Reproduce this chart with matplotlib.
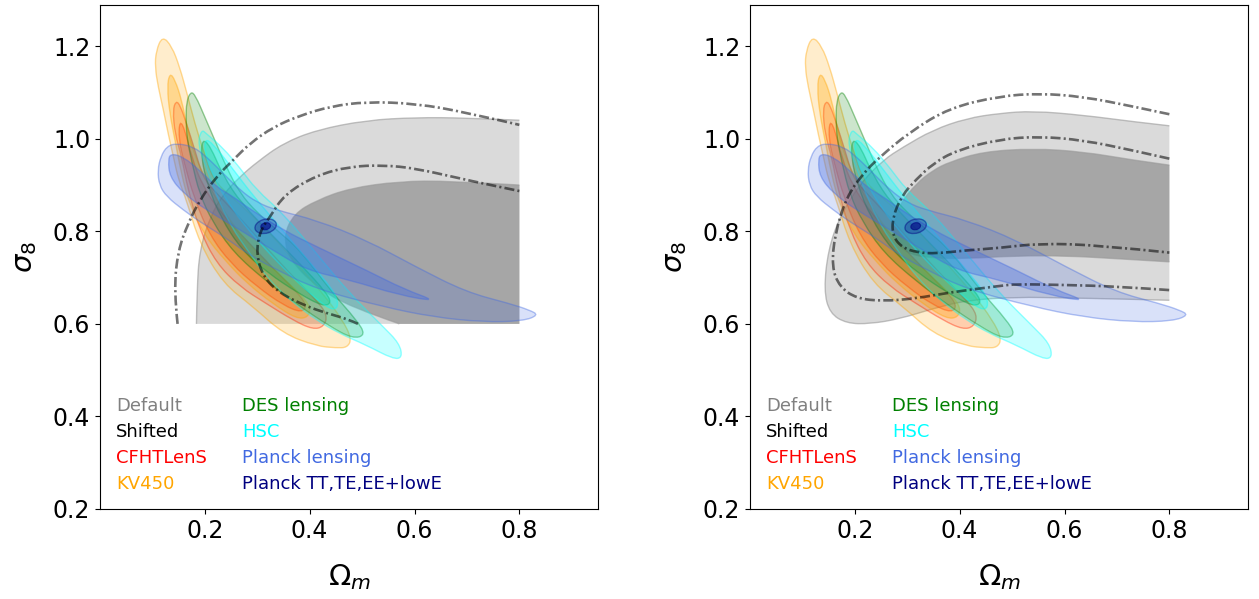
import numpy as np
import matplotlib.pyplot as plt
from matplotlib.path import Path
from matplotlib.patches import PathPatch, Ellipse
from matplotlib.colors import to_rgba

# contornos, pares (Omega_m, sigma_8)
# Default (cinza) e Shifted (traco-ponto), painel da esquerda
default_esq_2s = [(0.184, 0.600), (0.185, 0.673), (0.190, 0.759), (0.210, 0.831), (0.235, 0.880),
                  (0.267, 0.918), (0.300, 0.950), (0.349, 0.990), (0.413, 1.019), (0.508, 1.040),
                  (0.603, 1.046), (0.698, 1.045), (0.800, 1.040)]
default_esq_1s = [(0.571, 0.600), (0.476, 0.637), (0.413, 0.680), (0.362, 0.738), (0.350, 0.790),
                  (0.370, 0.838), (0.413, 0.867), (0.476, 0.893), (0.571, 0.908), (0.667, 0.909),
                  (0.800, 0.900)]
shifted_esq_2s = [(0.148, 0.600), (0.141, 0.673), (0.149, 0.759), (0.168, 0.817), (0.190, 0.867),
                  (0.222, 0.918), (0.254, 0.954), (0.286, 0.990), (0.330, 1.025), (0.381, 1.050),
                  (0.440, 1.070), (0.508, 1.080), (0.603, 1.076), (0.698, 1.057), (0.800, 1.030)]
shifted_esq_1s = [(0.492, 0.600), (0.476, 0.609), (0.430, 0.624), (0.394, 0.638), (0.343, 0.666),
                  (0.311, 0.702), (0.298, 0.752), (0.305, 0.800), (0.324, 0.831), (0.352, 0.880),
                  (0.413, 0.921), (0.476, 0.940), (0.540, 0.943), (0.603, 0.936), (0.698, 0.911),
                  (0.800, 0.887)]

# painel da direita
default_dir_2s = [(0.800, 0.651), (0.698, 0.654), (0.603, 0.656), (0.508, 0.658), (0.413, 0.651),
                  (0.349, 0.633), (0.286, 0.611), (0.229, 0.600), (0.184, 0.601), (0.152, 0.623),
                  (0.141, 0.673), (0.149, 0.759), (0.171, 0.831), (0.210, 0.903), (0.254, 0.954),
                  (0.292, 0.982), (0.349, 1.019), (0.413, 1.044), (0.476, 1.055), (0.540, 1.060),
                  (0.635, 1.051), (0.730, 1.037), (0.800, 1.028)]
default_dir_1s = [(0.800, 0.734), (0.698, 0.741), (0.603, 0.747), (0.508, 0.747), (0.413, 0.741),
                  (0.350, 0.742), (0.305, 0.750), (0.280, 0.772), (0.273, 0.810), (0.286, 0.860),
                  (0.317, 0.903), (0.349, 0.932), (0.381, 0.950), (0.444, 0.972), (0.540, 0.979),
                  (0.635, 0.972), (0.730, 0.954), (0.800, 0.943)]
shifted_dir_2s = [(0.800, 1.053), (0.730, 1.070), (0.635, 1.091), (0.552, 1.098), (0.476, 1.092),
                  (0.381, 1.067), (0.305, 1.015), (0.245, 0.958), (0.216, 0.925), (0.184, 0.874),
                  (0.162, 0.795), (0.156, 0.723), (0.171, 0.680), (0.203, 0.655), (0.254, 0.649),
                  (0.317, 0.655), (0.381, 0.668), (0.476, 0.682), (0.508, 0.686), (0.603, 0.684),
                  (0.698, 0.681), (0.800, 0.673)]
shifted_dir_1s = [(0.800, 0.957), (0.730, 0.975), (0.635, 0.997), (0.552, 1.005), (0.476, 0.999),
                  (0.394, 0.975), (0.350, 0.947), (0.317, 0.912), (0.290, 0.878), (0.272, 0.830),
                  (0.272, 0.790), (0.290, 0.765), (0.320, 0.754), (0.356, 0.752), (0.413, 0.759),
                  (0.476, 0.764), (0.552, 0.774), (0.667, 0.770), (0.800, 0.754)]

# lentes fracas (iguais nos dois paineis)
cfht_2s = [(0.145, 1.082), (0.153, 1.072), (0.165, 1.033), (0.181, 0.975), (0.197, 0.915),
           (0.220, 0.885), (0.250, 0.850), (0.290, 0.800), (0.337, 0.740), (0.381, 0.687),
           (0.413, 0.651), (0.434, 0.619), (0.427, 0.594), (0.406, 0.588), (0.368, 0.608),
           (0.317, 0.644), (0.267, 0.680), (0.222, 0.731), (0.190, 0.803), (0.168, 0.889),
           (0.156, 0.960), (0.143, 1.011), (0.139, 1.062)]
cfht_1s = [(0.152, 1.040), (0.162, 1.020), (0.175, 0.960), (0.195, 0.900), (0.230, 0.840),
           (0.280, 0.780), (0.330, 0.720), (0.375, 0.670), (0.395, 0.640), (0.385, 0.624),
           (0.350, 0.640), (0.300, 0.680), (0.250, 0.730), (0.210, 0.790), (0.180, 0.870),
           (0.160, 0.950), (0.150, 1.000)]
kv450_2s = [(0.119, 1.222), (0.137, 1.200), (0.152, 1.155), (0.166, 1.098), (0.181, 1.033),
            (0.197, 0.975), (0.216, 0.911), (0.250, 0.875), (0.286, 0.839), (0.336, 0.781),
            (0.381, 0.723), (0.425, 0.666), (0.463, 0.608), (0.480, 0.568), (0.472, 0.549),
            (0.451, 0.548), (0.413, 0.552), (0.349, 0.579), (0.292, 0.637), (0.235, 0.687),
            (0.190, 0.774), (0.165, 0.867), (0.150, 0.910), (0.140, 0.961), (0.130, 1.011),
            (0.121, 1.062), (0.111, 1.112), (0.105, 1.155), (0.107, 1.190)]
kv450_1s = [(0.133, 1.142), (0.143, 1.128), (0.156, 1.083), (0.166, 1.026), (0.180, 0.965),
            (0.205, 0.905), (0.235, 0.845), (0.270, 0.790), (0.310, 0.740), (0.350, 0.697),
            (0.382, 0.665), (0.402, 0.636), (0.397, 0.614), (0.375, 0.611), (0.330, 0.643),
            (0.280, 0.688), (0.240, 0.735), (0.200, 0.790), (0.170, 0.860), (0.155, 0.925),
            (0.143, 0.997), (0.133, 1.055), (0.128, 1.112)]
des_2s = [(0.173, 1.102), (0.182, 1.094), (0.200, 1.047), (0.219, 0.997), (0.241, 0.939),
          (0.267, 0.882), (0.300, 0.840), (0.340, 0.800), (0.381, 0.760), (0.444, 0.666),
          (0.489, 0.609), (0.507, 0.576), (0.482, 0.568), (0.438, 0.595), (0.381, 0.638),
          (0.317, 0.692), (0.254, 0.755), (0.215, 0.820), (0.190, 0.880), (0.175, 0.950),
          (0.166, 1.000), (0.164, 1.040), (0.165, 1.080)]
des_1s = [(0.195, 1.000), (0.210, 0.985), (0.235, 0.920), (0.270, 0.860), (0.330, 0.790),
          (0.390, 0.720), (0.430, 0.670), (0.442, 0.645), (0.425, 0.638), (0.380, 0.665),
          (0.320, 0.710), (0.270, 0.760), (0.230, 0.830), (0.205, 0.900), (0.193, 0.960)]
hsc_2s = [(0.194, 1.020), (0.203, 1.011), (0.235, 0.980), (0.267, 0.937), (0.298, 0.890),
          (0.349, 0.839), (0.413, 0.752), (0.476, 0.666), (0.540, 0.594), (0.571, 0.558),
          (0.577, 0.527), (0.559, 0.524), (0.508, 0.554), (0.457, 0.579), (0.413, 0.608),
          (0.362, 0.651), (0.317, 0.702), (0.286, 0.752), (0.250, 0.810), (0.225, 0.870),
          (0.205, 0.930), (0.186, 0.990)]
hsc_1s = [(0.200, 1.000), (0.215, 0.990), (0.250, 0.940), (0.290, 0.880), (0.350, 0.800),
          (0.410, 0.720), (0.450, 0.665), (0.455, 0.635), (0.440, 0.630), (0.400, 0.665),
          (0.350, 0.720), (0.300, 0.780), (0.250, 0.850), (0.215, 0.920), (0.200, 0.970)]
planck_lens_2s = [(0.146, 0.990), (0.178, 0.983), (0.203, 0.961), (0.229, 0.932), (0.267, 0.889),
                  (0.300, 0.862), (0.336, 0.846), (0.413, 0.824), (0.508, 0.781), (0.603, 0.723),
                  (0.698, 0.669), (0.781, 0.644), (0.819, 0.630), (0.837, 0.619), (0.806, 0.606),
                  (0.730, 0.604), (0.635, 0.615), (0.540, 0.637), (0.413, 0.675), (0.337, 0.717),
                  (0.286, 0.748), (0.241, 0.785), (0.190, 0.821), (0.159, 0.846), (0.127, 0.875),
                  (0.113, 0.900), (0.110, 0.932), (0.116, 0.962), (0.128, 0.984)]
planck_lens_1s = [(0.135, 0.968), (0.159, 0.961), (0.190, 0.932), (0.222, 0.896), (0.254, 0.875),
                  (0.286, 0.848), (0.349, 0.803), (0.413, 0.767), (0.508, 0.716), (0.580, 0.675),
                  (0.645, 0.648), (0.571, 0.662), (0.476, 0.695), (0.394, 0.716), (0.330, 0.759),
                  (0.267, 0.803), (0.203, 0.846), (0.159, 0.882), (0.133, 0.918), (0.130, 0.954)]

# Planck TT,TE,EE+lowE: centro, largura, altura, angulo
planck_tt_centro = (0.316, 0.811)
planck_tt_2s = (0.042, 0.030, 20)
planck_tt_1s = (0.019, 0.015, 20)

legenda_1 = ["Default", "Shifted", "CFHTLenS", "KV450"]
cores_1 = ["gray", "black", "red", "orange"]
legenda_2 = ["DES lensing", "HSC", "Planck lensing", "Planck TT,TE,EE+lowE"]
cores_2 = ["green", "cyan", "royalblue", "navy"]


def caminho(pts, fechado=True):
    p = np.asarray(pts, float)
    if fechado:
        m = (p + np.roll(p, -1, axis=0)) / 2
        verts = [m[-1]]
        codes = [Path.MOVETO]
        for a, b in zip(p, m):
            verts += [a, b]
            codes += [Path.CURVE3, Path.CURVE3]
        verts.append(m[-1])
        codes.append(Path.CLOSEPOLY)
    else:
        verts = [p[0]]
        codes = [Path.MOVETO]
        for i in range(1, len(p) - 1):
            fim = p[-1] if i == len(p) - 2 else (p[i] + p[i + 1]) / 2
            verts += [p[i], fim]
            codes += [Path.CURVE3, Path.CURVE3]
    return verts, codes


def regiao(ax, pts, cor, a_fill, a_borda=0.4, z=2):
    v, c = caminho(pts)
    ax.add_patch(PathPatch(Path(v, c), facecolor=to_rgba(cor, a_fill),
                           edgecolor=to_rgba(cor, a_borda), lw=1.0, zorder=z))


def cinza(ax, pts, cantos, cor):
    v, c = caminho(pts, fechado=False)
    v2 = v + [tuple(q) for q in cantos] + [v[0]]
    c2 = c + [Path.LINETO] * len(cantos) + [Path.CLOSEPOLY]
    ax.add_patch(PathPatch(Path(v2, c2), facecolor=cor, lw=0, zorder=1))
    ax.add_patch(PathPatch(Path(v, c), fill=False, edgecolor=(0.6, 0.6, 0.6, 0.6), lw=1.0, zorder=1))


def linha(ax, pts):
    v, c = caminho(pts, fechado=False)
    ax.add_patch(PathPatch(Path(v, c), fill=False, edgecolor=to_rgba("k", 0.55), lw=1.9,
                           linestyle=(0, (3.8, 1.2, 0.8, 1.2)), zorder=6))


def painel(ax, d2, d1, s2, s1, cantos2, cantos1):
    cinza(ax, d2, cantos2, "#dadada")
    cinza(ax, d1, cantos1, "#a6a6a6")

    regiao(ax, cfht_2s, "red", 0.15)
    regiao(ax, cfht_1s, "red", 0.25)
    regiao(ax, kv450_2s, "orange", 0.2)
    regiao(ax, kv450_1s, "orange", 0.3)
    regiao(ax, des_2s, "green", 0.2)
    regiao(ax, des_1s, "green", 0.25)
    regiao(ax, hsc_2s, "cyan", 0.22)
    regiao(ax, hsc_1s, "cyan", 0.3)
    regiao(ax, planck_lens_2s, "royalblue", 0.2)
    regiao(ax, planck_lens_1s, "royalblue", 0.35)

    w, h, ang = planck_tt_2s
    ax.add_patch(Ellipse(planck_tt_centro, w, h, angle=ang, facecolor=to_rgba("navy", 0.25),
                         edgecolor=to_rgba("navy", 0.45), lw=1.0, zorder=4))
    w, h, ang = planck_tt_1s
    ax.add_patch(Ellipse(planck_tt_centro, w, h, angle=ang, facecolor=to_rgba("navy", 0.6),
                         edgecolor=to_rgba("navy", 0.6), lw=0.8, zorder=4))

    linha(ax, s2)
    linha(ax, s1)

    for i, (t, c) in enumerate(zip(legenda_1, cores_1)):
        ax.text(0.032, 0.205 - i * 0.0515, t, color=c, fontsize=13, va="center",
                transform=ax.transAxes)
    for i, (t, c) in enumerate(zip(legenda_2, cores_2)):
        ax.text(0.285, 0.205 - i * 0.0515, t, color=c, fontsize=13, va="center",
                transform=ax.transAxes)

    ax.set_xlim(0, 0.95)
    ax.set_ylim(0.2, 1.289)
    ax.set_xticks([0.2, 0.4, 0.6, 0.8])
    ax.set_yticks([0.2, 0.4, 0.6, 0.8, 1.0, 1.2])
    ax.tick_params(labelsize=17)
    ax.set_xlabel(r"$\Omega_m$", fontsize=21, labelpad=14)
    ax.set_ylabel(r"$\sigma_8$", fontsize=21, labelpad=10)


fig = plt.figure(figsize=(12.59, 5.99), dpi=100)
ax1 = fig.add_axes([100 / 1259, 90 / 599, 498 / 1259, 504 / 599])
ax2 = fig.add_axes([750 / 1259, 90 / 599, 498 / 1259, 504 / 599])

painel(ax1, default_esq_2s, default_esq_1s, shifted_esq_2s, shifted_esq_1s, [(0.8, 0.6)], [(0.8, 0.6)])
painel(ax2, default_dir_2s, default_dir_1s, shifted_dir_2s, shifted_dir_1s, [], [])

fig.savefig("out.png", dpi=100)
